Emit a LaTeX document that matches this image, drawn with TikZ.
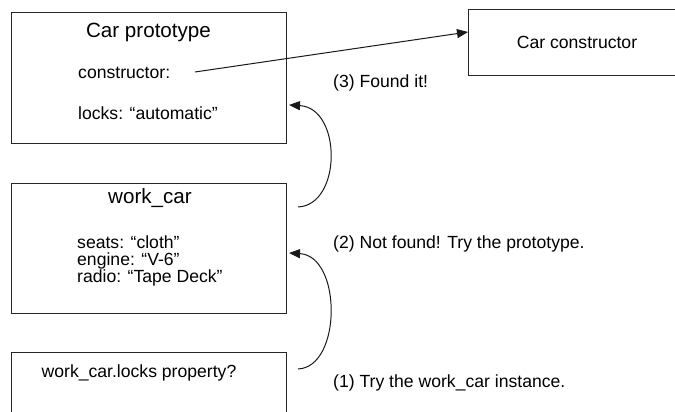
\documentclass[tikz,border=0pt]{standalone}
\usepackage{fontspec}
\setmainfont{Liberation Sans}
\usetikzlibrary{arrows.meta}
\begin{document}
\begin{tikzpicture}[x=1pt,y=-1pt,
  box/.style={draw=black!85, line width=1pt},
  body/.style={inner sep=0pt, anchor=base west, font=\fontsize{17.6}{20}\selectfont},
  title/.style={inner sep=0pt, anchor=base, font=\fontsize{20.6}{24}\selectfont},
  link/.style={draw=black!90, line width=1pt, -{Triangle[length=11pt,width=9pt]}}]
\useasboundingbox (0,0) rectangle (675,412);
\clip (0,0) rectangle (675,412);

% object boxes
\draw[box] (11,13) rectangle (286,143);
\draw[box] (11,183) rectangle (286,313);
\draw[box] (11,352) rectangle (286,440);
\draw[box] (468,10) rectangle (700,76);
\coordinate (ctorin) at (468,32);

% texts inside the boxes
\node[title] (ptitle) at (148.5,38) {Car prototype};
\node[body] (pctor) at (78,79) {constructor:};
\node[body] (plocks) at (78,119) {locks: “automatic”};
\node[title] (wtitle) at (150,203) {work\_car};
\node[body] (wseats) at (77,248) {seats: “cloth”};
\node[body] (wengine) at (77,265) {engine: “V-6”};
\node[body] (wradio) at (77,282) {radio: “Tape Deck”};
\node[body, anchor=base] (query) at (139,377) {work\_car.locks property?};
\node[body, anchor=base] (ctor) at (577,49) {Car constructor};

% step labels
\node[body] (s3) at (333,88) {(3) Found it!};
\node[body] (s2) at (333,248) {(2) Not found! Try the prototype.};
\node[body] (s1) at (333,387) {(1) Try the work\_car instance.};

% connector end points
\coordinate (ctorout) at (195,72);
\coordinate (q1) at (298,369);
\coordinate (w1) at (289,253);
\coordinate (w2) at (298,207);
\coordinate (p2) at (289,105);

% connectors
\draw[link] (ctorout) -- (ctorin);
\draw[link] (q1) .. controls (342,367) and (342,256) .. (w1);
\draw[link] (w2) .. controls (342,205) and (342,108) .. (p2);
\end{tikzpicture}
\end{document}
